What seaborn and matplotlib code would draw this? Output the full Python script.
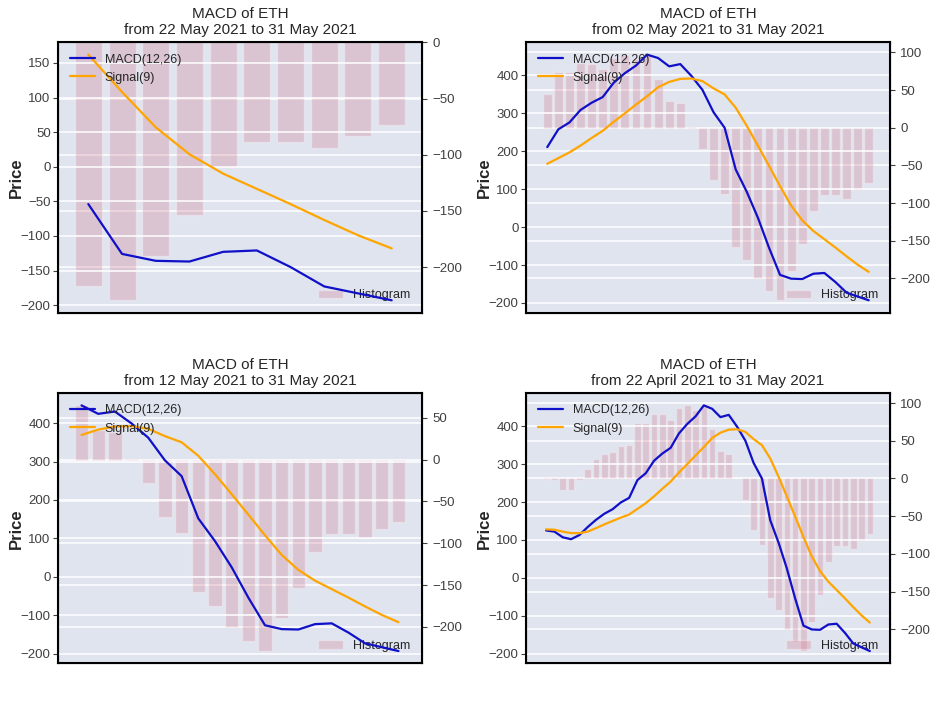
import numpy as np
import pandas as pd
import matplotlib
matplotlib.use("Agg")
import matplotlib.pyplot as plt
import seaborn as sns

# Daily MACD data, 22 April 2021 .. 31 May 2021 (40 days)
macd = [125, 122, 107, 102, 113, 134, 153, 169, 181, 199,
        211, 258, 276, 309, 328, 343, 381, 406, 426, 455,
        446, 424, 430, 399, 362, 303, 262, 152, 93, 25,
        -54, -126, -136, -137, -123, -121, -145, -173, -183, -193]
signal = [128, 127, 122, 118, 118, 122, 131, 141, 150, 159,
          167, 182, 197, 215, 235, 254, 278, 300, 323, 345,
          369, 383, 391, 392, 385, 366, 350, 315, 267, 215,
          162, 108, 57, 18, -10, -32, -54, -77, -99, -118]
hist = [-1, -2, -15, -15, -2, 12, 26, 32, 35, 43,
        45, 74, 74, 86, 85, 78, 93, 97, 91, 97,
        65, 36, 33, 1, -28, -69, -88, -158, -175, -200,
        -217, -229, -190, -154, -111, -89, -89, -94, -83, -74]

# panels: window length (days, ending 31 May 2021) and start label
window_days = [10, 30, 20, 40]
start_labels = ["22 May 2021", "02 May 2021", "12 May 2021", "22 April 2021"]
end_label = "31 May 2021"

BG = "#dfe4ef"
sns.set_style("dark", rc={
    "axes.facecolor": BG,
    "axes.edgecolor": "black",
    "axes.linewidth": 1.5,
    "grid.color": "white",
    "xtick.major.size": 0,
    "ytick.major.size": 0,
    "text.color": ".15",
    "xtick.color": ".25",
    "ytick.color": ".25",
})
plt.rcParams["font.family"] = ["Liberation Sans", "DejaVu Sans"]
plt.rcParams["axes.unicode_minus"] = True

fig, axes = plt.subplots(2, 2, figsize=(9.36, 7.02), dpi=100)
fig.subplots_adjust(left=0.0623, right=0.9505, top=0.9397, bottom=0.0551,
                    wspace=0.288, hspace=0.298)

for ax1, n, start in zip(axes.flat, window_days, start_labels):
    df = pd.DataFrame({
        "idx": np.arange(n),
        "macd": macd[-n:],
        "signal": signal[-n:],
        "hist": hist[-n:],
    })
    ax2 = ax1.twinx()
    # bars on the twin (right) axis, drawn behind the lines
    sns.barplot(data=df, x="idx", y="hist", ax=ax2, color="#d57b8f",
                alpha=0.3, saturation=1, width=0.8, label="Histogram")
    sns.lineplot(data=df, x="idx", y="macd", ax=ax1, color="#1010c8",
                 linewidth=1.6, label="MACD(12,26)")
    sns.lineplot(data=df, x="idx", y="signal", ax=ax1, color="orange",
                 linewidth=1.6, label="Signal(9)")

    ax1.set_zorder(ax2.get_zorder() + 1)
    ax1.patch.set_visible(False)
    ax2.patch.set_visible(True)
    ax2.patch.set_facecolor(BG)

    span = (n - 1) + 0.8
    ax1.set_xlim(-0.4 - 0.05 * span, n - 1 + 0.4 + 0.05 * span)
    ax1.set_xticks([])
    ax2.set_xticks([])
    ax1.set_xlabel("")
    ax2.set_xlabel("")
    ax2.set_ylabel("")
    ax1.set_ylabel("Price", fontsize=12, fontweight="bold", labelpad=-2)

    ax1.grid(axis="y", color="white", linewidth=1.1)
    ax2.grid(axis="y", color="white", linewidth=1.1)
    ax1.grid(axis="x", visible=False)
    ax2.grid(axis="x", visible=False)
    ax1.tick_params(axis="y", labelsize=9.5, pad=2)
    ax2.tick_params(axis="y", labelsize=9.5, pad=4)

    for sp in ax1.spines.values():
        sp.set_color("black")
        sp.set_linewidth(1.5)

    ax1.set_title(f"MACD of ETH\nfrom {start} to {end_label}", fontsize=11,
                  linespacing=1.15)
    ax1.legend(loc="upper left", frameon=False, fontsize=9)
    ax2.legend(loc="lower right", frameon=False, fontsize=9)

fig.savefig("out.png", dpi=100, facecolor="white")
